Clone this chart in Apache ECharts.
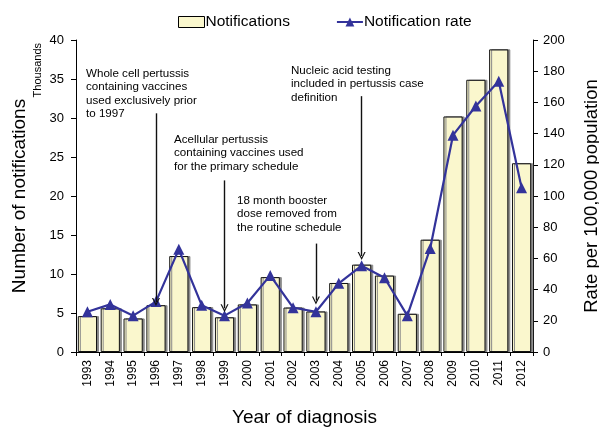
<!DOCTYPE html>
<html>
<head>
<meta charset="utf-8">
<script src="https://cdn.jsdelivr.net/npm/echarts@6/dist/echarts.min.js"></script>
<style>
  html, body { margin: 0; padding: 0; background: #fff; }
  #chart { width: 599px; height: 427px; }
</style>
</head>
<body>
<div id="chart"></div>
<script>
// Pertussis notifications (thousands) and notification rate per 100,000, 1993–2012
const years = ['1993','1994','1995','1996','1997','1998','1999','2000','2001','2002',
               '2003','2004','2005','2006','2007','2008','2009','2010','2011','2012'];
const notifications = [4.6, 5.6, 4.3, 6.0, 12.3, 5.75, 4.45, 6.1, 9.6, 5.7,
                       5.2, 8.85, 11.2, 9.8, 4.9, 14.4, 30.2, 34.9, 38.8, 24.2];
const notificationRate = [25.8, 30.5, 23.3, 32.3, 65.8, 30.0, 23.3, 31.4, 49.1, 28.4,
                          25.8, 44.0, 55.3, 47.6, 23.3, 66.4, 139, 157.7, 173.5, 105.3];

// Vaccine schedule events: year, arrow start and end (thousands)
const events = [
  { year: '1996', from: 30.6, to: 6.4 },
  { year: '1999', from: 22.0, to: 5.6 },
  { year: '2003', from: 13.9, to: 6.6 },
  { year: '2005', from: 32.8, to: 12.3 }
];

const FONT = 'Liberation Sans, Arial, sans-serif';
const chart = echarts.init(document.getElementById('chart'));

// Open chevron arrow head, tip pointing up in symbol space
const CHEVRON = 'path://M0,10 L5,0 L10,10 L8.4,10 L5,3.2 L1.6,10 Z';

const notes = [
  { x: 86, y: 67, text: 'Whole cell pertussis\ncontaining vaccines\nused exclusively prior\nto 1997' },
  { x: 174, y: 133, text: 'Acellular pertussis\ncontaining vaccines used\nfor the primary schedule' },
  { x: 237, y: 194, text: '18 month booster\ndose removed from\nthe routine schedule' },
  { x: 291, y: 64, text: 'Nucleic acid testing\nincluded in pertussis case\ndefinition' }
];

chart.setOption({
  animation: false,
  textStyle: { fontFamily: FONT },
  legend: {
    top: 14,
    left: 178,
    padding: 0,
    itemGap: 46,
    itemWidth: 26,
    itemHeight: 11,
    textStyle: { fontSize: 15.5, color: '#000', fontFamily: FONT, padding: [0, 0, 0, -4] },
    data: [
      { name: 'Notifications', icon: 'rect', itemStyle: { color: '#FAF7CD', borderColor: '#000', borderWidth: 1, shadowBlur: 0, shadowOffsetX: 0 } },
      { name: 'Notification rate' }
    ]
  },
  grid: { left: 76, right: 66, top: 40, bottom: 75, containLabel: false, outerBoundsMode: 'none' },
  xAxis: {
    type: 'category',
    data: years,
    name: 'Year of diagnosis',
    nameLocation: 'middle',
    nameGap: 56,
    nameTextStyle: { fontSize: 19, color: '#000', fontFamily: FONT },
    axisLine: { lineStyle: { color: '#000', width: 1 } },
    axisTick: { show: true, alignWithLabel: false, length: 4, lineStyle: { color: '#000' } },
    axisLabel: { rotate: 90, fontSize: 12, color: '#000', margin: 8, interval: 0, fontFamily: FONT }
  },
  yAxis: [
    {
      type: 'value',
      min: 0, max: 40, interval: 5,
      name: 'Number of notifications',
      nameLocation: 'middle',
      nameGap: 47,
      nameTextStyle: { fontSize: 19, color: '#000', fontFamily: FONT },
      axisLine: { show: true, lineStyle: { color: '#000', width: 1 } },
      axisTick: { show: true, length: 5, lineStyle: { color: '#000' } },
      axisLabel: { fontSize: 13, color: '#000', margin: 12, fontFamily: FONT },
      splitLine: { show: false }
    },
    {
      type: 'value',
      min: 0, max: 200, interval: 20,
      name: 'Rate per 100,000 population',
      nameLocation: 'middle',
      nameGap: 49,
      nameRotate: 90,
      nameTextStyle: { fontSize: 18.5, color: '#000', fontFamily: FONT },
      axisLine: { show: true, lineStyle: { color: '#000', width: 1 } },
      axisTick: { show: true, length: 5, lineStyle: { color: '#000' } },
      axisLabel: { fontSize: 13, color: '#000', margin: 10, fontFamily: FONT },
      splitLine: { show: false }
    }
  ],
  series: [
    {
      name: 'Notifications',
      type: 'bar',
      yAxisIndex: 0,
      data: notifications,
      barCategoryGap: '16%',
      itemStyle: {
        color: '#FAF7CD',
        borderColor: '#111',
        borderWidth: 1,
        shadowColor: '#8a8a8a',
        shadowOffsetX: 2,
        shadowBlur: 0
      },
      markLine: {
        silent: true,
        symbol: ['none', CHEVRON],
        symbolSize: [8, 8],
        lineStyle: { color: '#111', width: 1.4, type: 'solid' },
        label: { show: false },
        data: events.map(e => [
          { coord: [e.year, e.from] },
          { coord: [e.year, e.to] }
        ])
      },
      z: 2
    },
    {
      name: 'Notification rate',
      type: 'line',
      yAxisIndex: 1,
      data: notificationRate,
      symbol: 'triangle',
      symbolSize: 11,
      lineStyle: { color: '#33339A', width: 2.2 },
      itemStyle: { color: '#33339A' },
      z: 3
    }
  ],
  graphic: notes.map(n => ({
    type: 'text',
    left: n.x,
    top: n.y,
    z: 10,
    style: {
      text: n.text,
      fontSize: 11.6,
      lineHeight: 13.4,
      fill: '#000',
      fontFamily: FONT
    }
  })).concat([{
    type: 'text',
    left: 32,
    top: 43,
    rotation: Math.PI / 2,
    style: { text: 'Thousands', fontSize: 11, fill: '#000', fontFamily: FONT }
  }])
});
</script>
</body>
</html>
